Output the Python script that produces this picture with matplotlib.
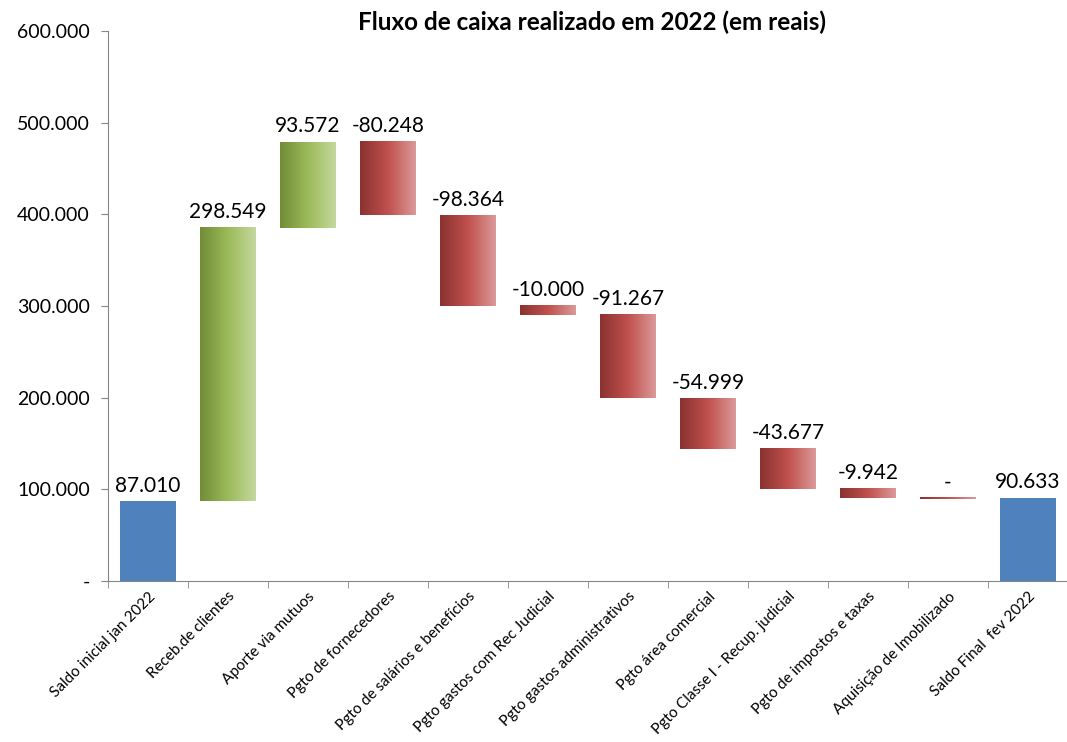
import matplotlib
matplotlib.use("Agg")
import matplotlib.pyplot as plt
import numpy as np
from matplotlib.colors import LinearSegmentedColormap
from matplotlib.ticker import FuncFormatter

plt.rcParams['font.family'] = ['Lato', 'DejaVu Sans']

categories = ["Saldo inicial jan 2022", "Receb.de clientes", "Aporte via mutuos",
              "Pgto de fornecedores", "Pgto de salários e benefícios",
              "Pgto gastos com Rec Judicial", "Pgto gastos administrativos",
              "Pgto área comercial", "Pgto Classe I - Recup. judicial",
              "Pgto de impostos e taxas", "Aquisição de Imobilizado",
              "Saldo Final  fev 2022"]
values = [87010, 298549, 93572, -80248, -98364, -10000, -91267, -54999, -43677, -9942, 0, 90633]
kinds = ["total", "delta", "delta", "delta", "delta", "delta", "delta", "delta", "delta", "delta", "delta", "total"]
yticks = [0, 100000, 200000, 300000, 400000, 500000, 600000]

green_cmap = LinearSegmentedColormap.from_list("g", ["#728C37", "#9BBB59", "#C5D89F"])
red_cmap = LinearSegmentedColormap.from_list("r", ["#8A3230", "#C0504D", "#DB9A98"])
blue = "#4F81BD"

def fmt(v):
    if round(v) == 0:
        return "-"
    return f"{v:,.0f}".replace(",", ".")

fig = plt.figure(figsize=(10.67, 7.42), dpi=100)
ax = fig.add_axes([108/1067, 1-581/742, 960/1067, 550/742])

width = 0.7
min_h = 1500
running = 0
grad = np.linspace(0, 1, 256).reshape(1, -1)
for i, (v, k) in enumerate(zip(values, kinds)):
    if k == "total":
        bottom, top = 0, v
        ax.bar(i, v, width=width, color=blue, zorder=2)
        running = v
    else:
        start = running
        end = running + v
        bottom, top = min(start, end), max(start, end)
        if top - bottom < min_h:
            bottom = top - min_h
        cmap = green_cmap if v > 0 else red_cmap
        ax.imshow(grad, cmap=cmap, aspect='auto',
                  extent=(i - width/2, i + width/2, bottom, top), zorder=2,
                  interpolation='bilinear')
        running = end
    ax.text(i, top + 6000, fmt(v), ha='center', va='bottom', fontsize=15, color='black')

ax.set_xlim(-0.5, len(categories) - 0.5)
ax.set_ylim(0, 600000)
ax.set_yticks(yticks)
ax.yaxis.set_major_formatter(FuncFormatter(lambda v, p: fmt(v)))
ax.set_xticks(np.arange(len(categories)))
ax.set_xticklabels(categories, rotation=45, ha='right', rotation_mode='anchor', fontsize=11)
ax.set_xticks(np.arange(len(categories) + 1) - 0.5, minor=True)
ax.tick_params(axis='x', which='major', length=0, pad=6)
ax.tick_params(axis='x', which='minor', length=5, color='#868686')
ax.tick_params(axis='y', length=5, color='#868686', labelsize=14, pad=8)
for s in ['top', 'right']:
    ax.spines[s].set_visible(False)
for s in ['left', 'bottom']:
    ax.spines[s].set_color('#868686')

fig.text(592/1067, 1-22/742, "Fluxo de caixa realizado em 2022 (em reais)",
         ha='center', va='center', fontsize=17.5, fontweight='bold')

fig.savefig("out.png", dpi=100)
